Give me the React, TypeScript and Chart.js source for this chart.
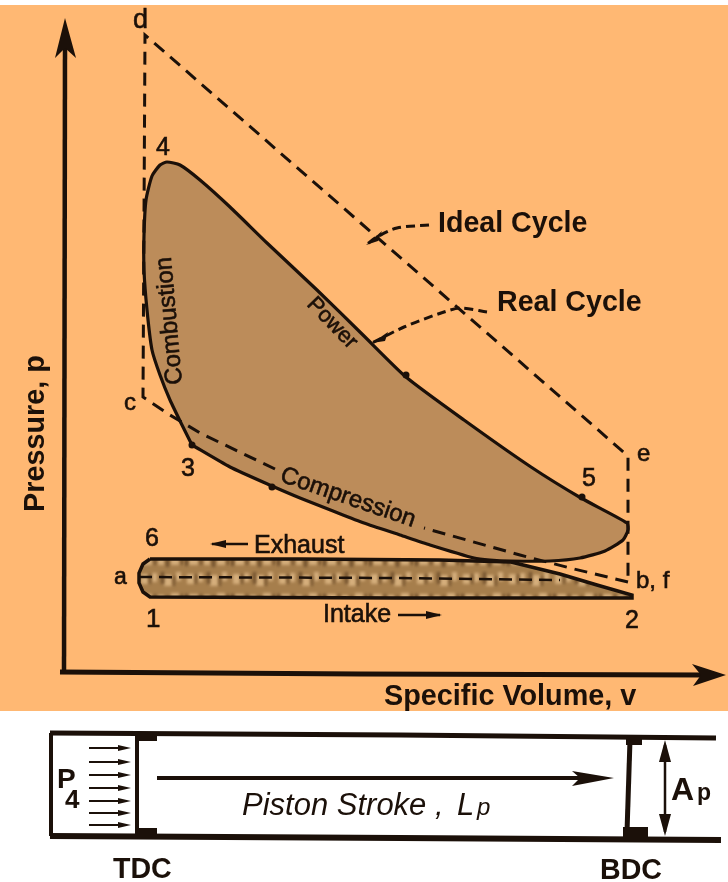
import React, { useEffect, useRef } from "react";
import { Chart, registerables } from "chart.js";

Chart.register(...registerables);

const W = 728;
const H = 882;
type Pt = [number, number];

// Panel
const panel: Pt[] = [[0, 5], [728, 5], [728, 711], [0, 711], [0, 5]];

// Axes
const pressureAxis: Pt[] = [[64, 672], [65, 40]];
const volumeAxis: Pt[] = [[60, 672], [360, 674], [705, 675]];
const pressureArrow: Pt[] = [[65, 18], [76, 58], [65, 48], [55, 58], [65, 18]];
const volumeArrow: Pt[] = [[726, 675], [692, 664], [701, 675], [693, 686], [726, 675]];

// Ideal cycle
const idealUpper: Pt[] = [[275, 469], [200, 433], [170, 415], [143, 397], [145, 35], [628, 456], [628, 582]];
const idealLower: Pt[] = [[628, 582], [570, 568], [520, 555], [424, 528]];
const idealIntake: Pt[] = [[139, 577], [400, 578], [560, 580]];

// Real cycle
const realCycle: Pt[] = [
  [192, 445], [183, 427], [170, 400], [160, 375], [152, 350], [147, 310], [144, 270], [144, 235], [146, 200], [152, 176],
  [160, 165], [167, 162], [180, 165], [200, 180], [230, 207], [267, 243], [317, 290], [363, 335], [406, 377], [464, 420],
  [531, 467], [581, 498], [627, 523], [628, 530], [623, 540], [605, 551], [580, 558], [550, 561], [510, 561], [490, 560],
  [474, 558], [430, 545], [400, 535], [364, 523], [333, 511], [300, 498], [272, 486], [230, 467], [192, 445],
];
const pumpLoop: Pt[] = [
  [150, 559], [300, 559], [440, 560], [511, 562], [560, 574], [597, 585], [632, 595], [632, 598], [400, 598], [150, 597],
  [143, 592], [139, 583], [139, 573], [143, 564], [150, 559],
];

// Leaders
const idealLeader: Pt[] = [[429, 225], [397, 228], [377, 237], [366, 245]];
const realLeader: Pt[] = [[487, 312], [461, 308], [444, 312], [404, 327], [372, 343]];
const idealLeaderHead: Pt[] = [[366, 245], [382, 231], [378, 241], [366, 245]];
const realLeaderHead: Pt[] = [[372, 343], [388, 332], [385, 341], [372, 343]];
const processPoints: Pt[] = [[406, 375], [582, 497], [272, 487], [192, 445]];

// Process flow arrows
const exhaustArrow: Pt[] = [[248, 544], [212, 544]];
const exhaustHead: Pt[] = [[210, 544], [226, 540], [226, 548], [210, 544]];
const intakeArrow: Pt[] = [[398, 615], [440, 615]];
const intakeHead: Pt[] = [[442, 615], [426, 611], [426, 619], [442, 615]];

// Piston diagram
const cylinderTop: Pt[] = [[50, 733], [400, 735], [716, 738]];
const cylinderBottom: Pt[] = [[50, 836], [400, 838], [721, 840]];
const cylinderHead: Pt[] = [[51, 733], [51, 836]];
const tdcFace: Pt[] = [[137, 734], [137, 836]];
const tdcTopBlock: Pt[] = [[137, 732], [157, 732], [157, 741], [137, 741], [137, 732]];
const tdcFootBlock: Pt[] = [[137, 828], [157, 828], [157, 838], [137, 838], [137, 828]];
const bdcFace: Pt[] = [[630, 740], [627, 832]];
const bdcTopBlock: Pt[] = [[626, 738], [642, 738], [642, 745], [626, 745], [626, 738]];
const bdcFootBlock: Pt[] = [[623, 827], [648, 827], [648, 839], [623, 839], [623, 827]];
const strokeLine: Pt[] = [[157, 778], [585, 778]];
const strokeHead: Pt[] = [[614, 778], [572, 771], [580, 778], [572, 786], [614, 778]];
const boreLine: Pt[] = [[665, 745], [665, 832]];
const boreHeadUp: Pt[] = [[665, 740], [659, 762], [671, 762], [665, 740]];
const boreHeadDown: Pt[] = [[665, 836], [659, 814], [671, 814], [665, 836]];
const gasRowsP = [748, 762, 775, 788, 801, 813, 825];
const gasStartV = 89;
const gasEndV = 131;

// Labels: text, x, baseline y
const sans = '"Liberation Sans"';
const labels = [
  { t: "Ideal Cycle", x: 438, y: 232, s: 28.6, w: "bold" },
  { t: "Real Cycle", x: 497, y: 311, s: 28.6, w: "bold" },
  { t: "Specific Volume, v", x: 384, y: 705, s: 28.8, w: "bold" },
  { t: "Exhaust", x: 254, y: 553, s: 25, w: "normal" },
  { t: "Intake", x: 323, y: 622, s: 25, w: "normal" },
  { t: "d", x: 133, y: 28, s: 27, w: "normal" },
  { t: "4", x: 156, y: 155, s: 25, w: "normal" },
  { t: "c", x: 124, y: 410, s: 24, w: "normal" },
  { t: "3", x: 181, y: 476, s: 25, w: "normal" },
  { t: "a", x: 114, y: 584, s: 23, w: "normal" },
  { t: "6", x: 145, y: 546, s: 25, w: "normal" },
  { t: "1", x: 146, y: 627, s: 26, w: "normal" },
  { t: "2", x: 625, y: 628, s: 25, w: "normal" },
  { t: "e", x: 637, y: 461, s: 24, w: "normal" },
  { t: "5", x: 582, y: 486, s: 25, w: "normal" },
  { t: "b, f", x: 636, y: 588, s: 24, w: "normal" },
  { t: "P", x: 57, y: 788, s: 28, w: "bold" },
  { t: "4", x: 65, y: 808, s: 26, w: "bold" },
  { t: "TDC", x: 113, y: 878, s: 28.6, w: "bold" },
  { t: "BDC", x: 600, y: 879, s: 28.6, w: "bold" },
  { t: "A", x: 671, y: 800, s: 32, w: "bold" },
  { t: "p", x: 697, y: 800, s: 23, w: "bold" },
  { t: "Piston Stroke ,", x: 242, y: 815, s: 31, w: "normal", i: true },
  { t: "L", x: 457, y: 815, s: 31, w: "normal", i: true },
  { t: "p", x: 477, y: 815, s: 24, w: "normal", i: true },
];
const rotatedLabels = [
  { t: "Pressure, p", x: 44, y: 512, s: 28.8, w: "bold", a: -90 },
  { t: "Combustion", x: 182, y: 384, s: 24, w: "normal", a: -95 },
  { t: "Power", x: 306, y: 305, s: 22, w: "normal", a: 46 },
  { t: "Compression", x: 279, y: 481, s: 24, w: "normal", a: 19 },
];

function pts(a: Pt[]) {
  return a.map(([x, y]) => ({ x, y }));
}

function texture(): CanvasPattern | string {
  const c = document.createElement("canvas");
  c.width = 46;
  c.height = 38;
  const g = c.getContext("2d");
  if (!g) return "#a67e4c";
  g.fillStyle = "#a67e4c";
  g.fillRect(0, 0, 46, 38);
  g.filter = "blur(1.5px)";
  const light = [[3, 4, 7, 10], [14, 3, 5, 9], [26, 5, 8, 11], [38, 2, 5, 9], [5, 24, 9, 9], [20, 25, 6, 8], [33, 23, 8, 10]];
  const dark = [[11, 4, 2, 10], [23, 2, 3, 12], [35, 6, 2, 10], [1, 24, 3, 10], [16, 24, 2, 9], [28, 26, 3, 9], [43, 24, 2, 9]];
  g.fillStyle = "#d5ae7c";
  light.forEach(([x, y, w, h]) => g.fillRect(x, y, w, h));
  g.fillStyle = "#6e4e2c";
  dark.forEach(([x, y, w, h]) => g.fillRect(x, y, w, h));
  return g.createPattern(c, "repeat") ?? "#a67e4c";
}

export default function App() {
  const ref = useRef<HTMLCanvasElement>(null);

  useEffect(() => {
    const canvas = ref.current;
    if (!canvas) return;
    const ink = "#1b1009";
    const base = { parsing: false as const, pointRadius: 0, clip: false as const, tension: 0, showLine: true };
    const area = (a: Pt[], color: any, extra: object = {}) => ({ ...base, data: pts(a), backgroundColor: color, borderColor: "transparent", borderWidth: 0, fill: "shape", ...extra });
    const line = (a: Pt[], width: number, extra: object = {}) => ({ ...base, data: pts(a), borderColor: ink, borderWidth: width, fill: false, ...extra });
    const gasRows = gasRowsP.flatMap((p) => [
      line([[gasStartV, p], [gasEndV - 8, p]], 2),
      area([[gasEndV, p], [gasEndV - 13, p - 3], [gasEndV - 13, p + 3], [gasEndV, p]], ink),
    ]);

    const bottomFirst: any[] = [
      area(panel, "#ffb873"),
      area(realCycle, "#bc8c5a", { tension: 0.2 }),
      area(pumpLoop, texture(), { tension: 0 }),
      line(idealUpper, 3, { borderDash: [13, 8] }),
      line(idealLower, 3, { borderDash: [13, 8] }),
      line(idealIntake, 2.5, { borderDash: [13, 7] }),
      line(realCycle, 3.2, { tension: 0.2 }),
      line(pumpLoop, 3.5),
      line(pressureAxis, 4.5),
      line(volumeAxis, 5),
      area(pressureArrow, ink),
      area(volumeArrow, ink),
      line(idealLeader, 3, { borderDash: [9, 5], tension: 0.3 }),
      line(realLeader, 3, { borderDash: [9, 5], tension: 0.3 }),
      area(idealLeaderHead, ink),
      area(realLeaderHead, ink),
      line(exhaustArrow, 2.5),
      area(exhaustHead, ink),
      line(intakeArrow, 2.5),
      area(intakeHead, ink),
      { ...base, showLine: false, data: pts(processPoints), pointRadius: 3.5, pointBackgroundColor: ink, pointBorderWidth: 0 },
      line(cylinderTop, 5),
      line(cylinderBottom, 6),
      line(cylinderHead, 4),
      line(tdcFace, 4),
      area(tdcTopBlock, ink),
      area(tdcFootBlock, ink),
      line(bdcFace, 5),
      area(bdcTopBlock, ink),
      area(bdcFootBlock, ink),
      line(strokeLine, 4),
      area(strokeHead, ink),
      line(boreLine, 2.5),
      area(boreHeadUp, ink),
      area(boreHeadDown, ink),
      ...gasRows,
    ];

    const labelPlugin = {
      id: "diagramLabels",
      afterDraw(chart: any) {
        const { ctx, scales } = chart;
        const put = (t: string, x: number, y: number, heavy: boolean) => {
          ctx.fillText(t, x, y);
          if (heavy) ctx.strokeText(t, x, y);
        };
        ctx.save();
        ctx.fillStyle = ink;
        ctx.strokeStyle = ink;
        ctx.lineWidth = 0.6;
        ctx.textBaseline = "alphabetic";
        ctx.textAlign = "left";
        labels.forEach((l: any) => {
          ctx.font = `${l.i ? "italic " : ""}${l.w} ${l.s}px ${sans}`;
          put(l.t, scales.x.getPixelForValue(l.x), scales.y.getPixelForValue(l.y), l.w === "normal" && !l.i);
        });
        rotatedLabels.forEach((l) => {
          ctx.save();
          ctx.font = `${l.w} ${l.s}px ${sans}`;
          ctx.translate(scales.x.getPixelForValue(l.x), scales.y.getPixelForValue(l.y));
          ctx.rotate((l.a * Math.PI) / 180);
          put(l.t, 0, 0, l.w === "normal");
          ctx.restore();
        });
        ctx.restore();
      },
    };

    const chart = new Chart(canvas, {
      type: "scatter",
      data: { datasets: bottomFirst.reverse() },
      options: {
        responsive: false,
        animation: false,
        layout: { padding: 0, autoPadding: false },
        events: [],
        plugins: { legend: { display: false }, tooltip: { enabled: false }, title: { display: false } },
        scales: {
          x: { type: "linear", min: 0, max: W, display: false },
          y: { type: "linear", min: 0, max: H, reverse: true, display: false },
        },
      },
      plugins: [labelPlugin],
    } as any);
    return () => chart.destroy();
  }, []);

  return (
    <div style={{ position: "absolute", left: 0, top: 0, width: W, height: H, background: "#fff" }}>
      <canvas ref={ref} width={W} height={H} style={{ display: "block", filter: "blur(0.5px)" }} />
    </div>
  );
}
